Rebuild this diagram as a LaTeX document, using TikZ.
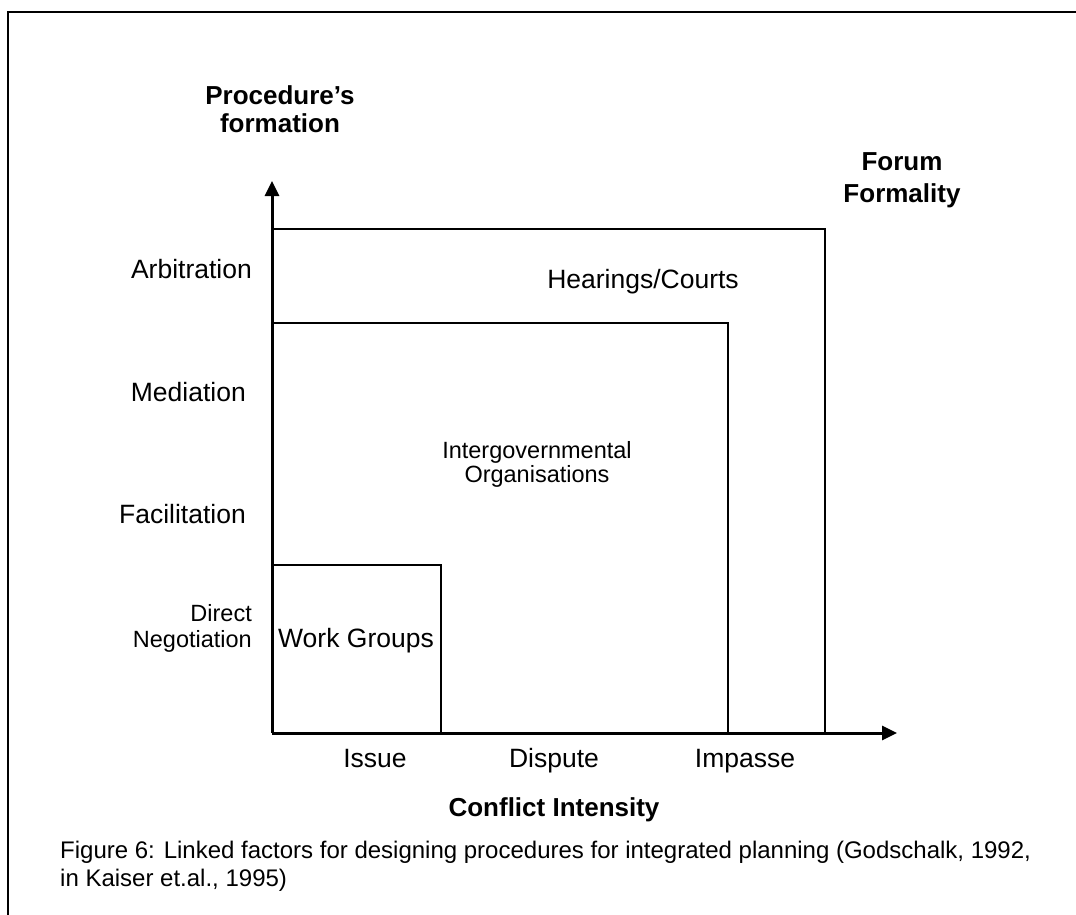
\documentclass[tikz,border=0pt]{standalone}
\usepackage{fontspec}
\setmainfont{Liberation Sans}
\usetikzlibrary{arrows.meta}
\begin{document}
\begin{tikzpicture}[x=1pt,y=-1pt,
  big/.style={font=\fontsize{26.5}{29}\selectfont, inner sep=0pt, anchor=base},
  small/.style={font=\fontsize{23.5}{27}\selectfont, inner sep=0pt, anchor=base},
  title/.style={font=\fontsize{26}{27}\selectfont\bfseries, inner sep=0pt, anchor=base},
  caption/.style={font=\fontsize{24}{27}\selectfont, inner sep=0pt, anchor=base west},
  axis/.style={line width=3pt, -{Triangle[length=15pt,width=14pt]}},
  band/.style={line width=2pt},
  frame/.style={line width=2pt}]
\useasboundingbox (0,0) rectangle (1076,915);

% outer frame (top and left edges)
\draw[frame] (1076,12) -- (8,12) -- (8,915);

% axes
\coordinate (origin) at (272,733);
\coordinate (ytip) at (272,181);
\coordinate (xtip) at (897,733);

% nested forum boxes
\coordinate (wgTL) at (272,565);
\coordinate (wgBR) at (441,733);
\coordinate (igTL) at (272,323);
\coordinate (igBR) at (728,733);
\coordinate (hcTL) at (272,229);
\coordinate (hcBR) at (825,733);
\draw[band] (wgTL) -| (wgBR);
\draw[band] (igTL) -| (igBR);
\draw[band] (hcTL) -| (hcBR);

\draw[axis] (origin) -- (ytip);
\draw[axis] (origin) -- (xtip);

% axis titles
\node[title] (proc1) at (280,105) {Procedure’s};
\node[title] (proc2) at (280,132) {formation};
\node[title] (forum1) at (902,171) {Forum};
\node[title] (forum2) at (902,202) {Formality};
\node[title] (conflict) at (554,816) {Conflict Intensity};

% procedure levels
\node[big, anchor=base east] (arb) at (252,278) {Arbitration};
\node[big, anchor=base east] (med) at (246,401) {Mediation};
\node[big, anchor=base east] (fac) at (246,523) {Facilitation};
\node[small, anchor=base east] (dn1) at (252,621) {Direct};
\node[small, anchor=base east] (dn2) at (252,647) {Negotiation};

% forum labels
\node[big] (wg) at (356,647) {Work Groups};
\node[small] (ig1) at (537,458) {Intergovernmental};
\node[small] (ig2) at (537,482) {Organisations};
\node[big] (hc) at (643,288) {Hearings/Courts};

% conflict levels
\node[big] (issue) at (375,767) {Issue};
\node[big] (dispute) at (554,767) {Dispute};
\node[big] (impasse) at (745,767) {Impasse};

% caption
\node[caption] (cap1) at (60,858) {Figure 6: Linked factors for designing procedures for integrated planning (Godschalk, 1992,};
\node[caption] (cap2) at (60,886) {in Kaiser et.al., 1995)};
\end{tikzpicture}
\end{document}
